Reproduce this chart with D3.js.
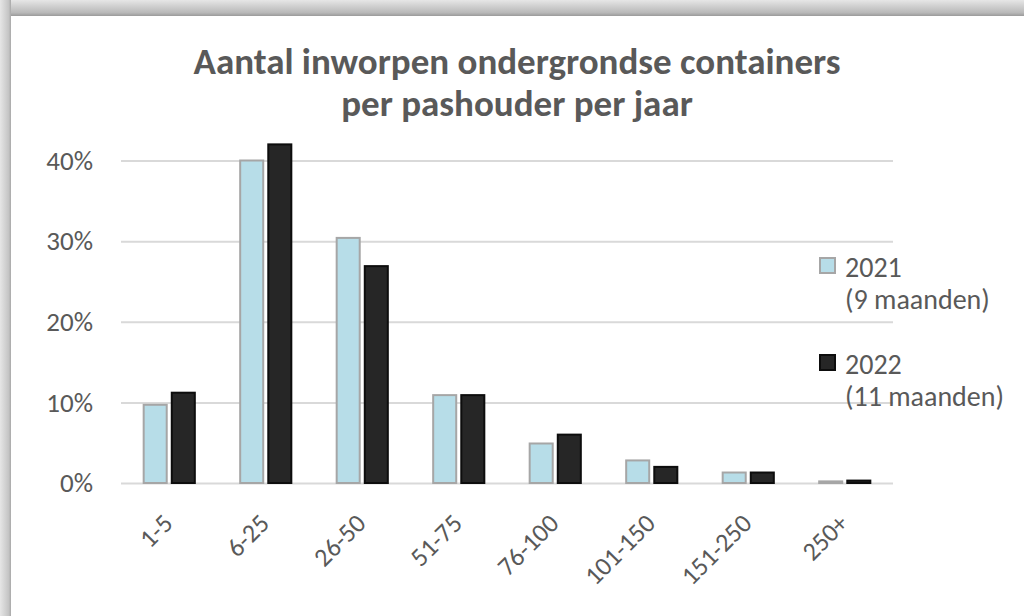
<!DOCTYPE html>
<html>
<head>
<meta charset="utf-8">
<script src="https://cdn.jsdelivr.net/npm/d3@7"></script>
<style>
  html, body { margin: 0; padding: 0; background: #fff; }
  svg { display: block; }
  text { font-family: Carlito, Lato, "Open Sans", sans-serif; fill: #595959; }
</style>
</head>
<body>
<svg id="chart"></svg>
<script>
(function (d3) {

    /***** Data *****/
    var categories = ["1-5", "6-25", "26-50", "51-75", "76-100", "101-150", "151-250", "250+"];
    var series = ["2021", "2022"];
    var seriesNotes = ["(9 maanden)", "(11 maanden)"];
    var values2021 = [0.097, 0.400, 0.304, 0.109, 0.049, 0.028, 0.013, 0.002];
    var values2022 = [0.112, 0.420, 0.269, 0.109, 0.060, 0.020, 0.013, 0.003];
    var yTicks = [0, 0.1, 0.2, 0.3, 0.4];
    var titleLines = ["Aantal inworpen ondergrondse containers", "per pashouder per jaar"];

    /***** Configuration *****/
    var width = 1024, height = 616;
    var plot = { left: 121, right: 893, top: 160.5, bottom: 483 };
    var fills = ["#b7dde8", "#262626"];
    var strokes = ["#a6a6a6", "#0d0d0d"];

    var svg = d3.select("#chart").attr("width", width).attr("height", height);

    /***** Frame shadow *****/
    var defs = svg.append("defs");
    var gTop = defs.append("linearGradient").attr("id", "shTop")
        .attr("x1", 0).attr("y1", 0).attr("x2", 0).attr("y2", 1);
    gTop.append("stop").attr("offset", "0%").attr("stop-color", "#e6e6e6");
    gTop.append("stop").attr("offset", "80%").attr("stop-color", "#b8b8b8");
    gTop.append("stop").attr("offset", "100%").attr("stop-color", "#9a9a9a");
    var gLeft = defs.append("linearGradient").attr("id", "shLeft")
        .attr("x1", 0).attr("y1", 0).attr("x2", 1).attr("y2", 0);
    gLeft.append("stop").attr("offset", "0%").attr("stop-color", "#e6e6e6");
    gLeft.append("stop").attr("offset", "80%").attr("stop-color", "#c4c4c4");
    gLeft.append("stop").attr("offset", "100%").attr("stop-color", "#a8a8a8");

    svg.append("rect").attr("x", 0).attr("y", 0).attr("width", width).attr("height", height).attr("fill", "#fff");
    svg.append("rect").attr("x", 0).attr("y", 0).attr("width", width).attr("height", 16).attr("fill", "url(#shTop)");
    svg.append("rect").attr("x", 0).attr("y", 0).attr("width", 11).attr("height", height).attr("fill", "url(#shLeft)");

    /***** Scales *****/
    var x0 = d3.scaleBand().domain(categories).range([plot.left, plot.right])
        .paddingInner(0.47).paddingOuter(0.235);
    var x1 = d3.scaleBand().domain(series).range([0, x0.bandwidth()]).paddingInner(0.18);
    var y = d3.scaleLinear().domain([0, 0.4]).range([plot.bottom, plot.top]);
    var color = d3.scaleOrdinal().domain(series).range(fills);
    var stroke = d3.scaleOrdinal().domain(series).range(strokes);

    /***** Title *****/
    svg.append("text")
        .attr("x", 517).attr("y", 74)
        .attr("text-anchor", "middle")
        .style("font-size", "37px").style("font-weight", "bold")
        .selectAll("tspan").data(titleLines).enter().append("tspan")
        .attr("x", 517).attr("dy", function (d, i) { return i === 0 ? 0 : 42; })
        .text(function (d) { return d; });

    /***** Grid and y axis *****/
    var yAxis = d3.axisLeft(y).tickValues(yTicks)
        .tickSize(-(plot.right - plot.left)).tickPadding(28)
        .tickFormat(d3.format(".0%"));
    var yG = svg.append("g").attr("transform", "translate(" + plot.left + ",0)").call(yAxis);
    yG.select(".domain").remove();
    yG.selectAll(".tick line").attr("stroke", "#d9d9d9").attr("stroke-width", 2);
    yG.selectAll(".tick text").style("font-size", "27px").attr("fill", "#595959");

    /***** Bars *****/
    var rows = categories.map(function (c, i) {
        return { cat: c, vals: [
            { s: series[0], v: values2021[i] },
            { s: series[1], v: values2022[i] }
        ] };
    });

    var groups = svg.append("g").selectAll("g").data(rows).enter().append("g")
        .attr("transform", function (d) { return "translate(" + x0(d.cat) + ",0)"; });

    groups.selectAll("rect").data(function (d) { return d.vals; }).enter().append("rect")
        .attr("x", function (d) { return x1(d.s); })
        .attr("y", function (d) { return y(d.v); })
        .attr("width", x1.bandwidth())
        .attr("height", function (d) { return y(0) - y(d.v); })
        .attr("fill", function (d) { return color(d.s); })
        .attr("stroke", function (d) { return stroke(d.s); })
        .attr("stroke-width", 2);

    /***** X axis labels *****/
    var xAxis = d3.axisBottom(x0).tickSize(0).tickPadding(0);
    var xG = svg.append("g").attr("transform", "translate(0," + plot.bottom + ")").call(xAxis);
    xG.select(".domain").remove();
    xG.selectAll(".tick text")
        .style("font-size", "26px").attr("fill", "#595959")
        .attr("text-anchor", "end")
        .attr("dy", "0")
        .attr("y", 0)
        .attr("transform", "translate(5,42) rotate(-45)");

    /***** Legend *****/
    var legend = svg.append("g").selectAll("g").data(series).enter().append("g")
        .attr("transform", function (d, i) { return "translate(820," + (258 + i * 97) + ")"; });
    legend.append("rect")
        .attr("width", 15).attr("height", 15)
        .attr("fill", function (d) { return color(d); })
        .attr("stroke", function (d) { return stroke(d); })
        .attr("stroke-width", 2);
    legend.append("text")
        .attr("x", 25).attr("y", 19)
        .style("font-size", "28px")
        .text(function (d) { return d; });
    legend.append("text")
        .attr("x", 25).attr("y", 51)
        .style("font-size", "28px")
        .text(function (d, i) { return seriesNotes[i]; });

})(d3);
</script>
</body>
</html>
